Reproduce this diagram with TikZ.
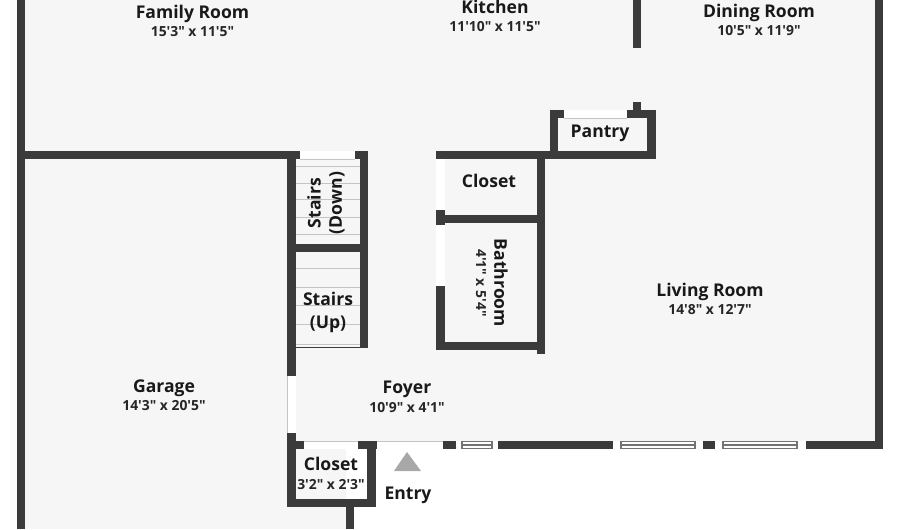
\documentclass[tikz,border=0pt]{standalone}
\usepackage{fontspec}
\newfontfamily\planfont{Open Sans}
\usepackage{xcolor}
\definecolor{wallgray}{HTML}{3B3B3B}
\definecolor{floorgray}{HTML}{F6F6F6}
\definecolor{stairline}{HTML}{C4C4C4}
\definecolor{entrygray}{HTML}{A8A8A8}
\tikzstyle{wall} = [fill=wallgray]
\tikzstyle{floor} = [fill=floorgray]
\tikzstyle{door} = [fill=white]
\tikzstyle{tread} = [draw=stairline, line width=0.5pt]
\tikzstyle{frame} = [draw=stairline, line width=0.4pt]
\tikzstyle{pane} = [draw=black!55, line width=0.6pt]
\tikzstyle{room} = [font=\planfont\bfseries\fontsize{10}{12}\selectfont, text=black!90, inner sep=0pt]
\tikzstyle{size} = [font=\planfont\fontsize{7.9}{10}\selectfont\bfseries, text=black!85, inner sep=0pt]
\begin{document}
\begin{tikzpicture}[x=0.02cm, y=-0.02cm]
	\useasboundingbox (0,0) rectangle (900,529);

	% floor
	\fill[white] (0,0) rectangle (900,529);
	\fill[floor] (25,0) rectangle (875,441);
	\fill[floor] (25,441) rectangle (346,529);

	% stair treads
	\draw[tread] (296,166) -- (360,166);
	\draw[tread] (296,183) -- (360,183);
	\draw[tread] (296,199) -- (360,199);
	\draw[tread] (296,217) -- (360,217);
	\draw[tread] (296,234) -- (360,234);
	\draw[tread] (296,268) -- (360,268);
	\draw[tread] (296,287) -- (360,287);
	\draw[tread] (296,305) -- (360,305);
	\draw[tread] (296,324) -- (360,324);
	\draw[tread] (296,344) -- (360,344);

	% outer walls
	\fill[wall] (17,0) rectangle (25,529);
	\fill[wall] (875,0) rectangle (883,449);
	\fill[wall] (17,151) rectangle (296,159);
	\fill[wall] (443,441) rectangle (883,449);
	\fill[wall] (633,0) rectangle (641,48);

	% stairs
	\fill[wall] (287,151) rectangle (296,441);
	\fill[wall] (360,151) rectangle (368,348);
	\fill[wall] (287,151) rectangle (368,159);
	\fill[wall] (287,244) rectangle (368,252);
	\fill[wall] (296,347) rectangle (360,348);

	% closet and bathroom
	\fill[wall] (436,151) rectangle (656,159);
	\fill[wall] (436,151) rectangle (445,350);
	\fill[wall] (537,151) rectangle (545,354);
	\fill[wall] (436,215) rectangle (545,223);
	\fill[wall] (436,342) rectangle (545,350);

	% pantry
	\fill[wall] (550,110) rectangle (558,159);
	\fill[wall] (550,110) rectangle (656,118);
	\fill[wall] (647,110) rectangle (656,159);
	\fill[wall] (633,102) rectangle (641,110);

	% entry closet
	\fill[wall] (287,441) rectangle (377,449);
	\fill[wall] (287,441) rectangle (296,507);
	\fill[wall] (367,441) rectangle (376,507);
	\fill[wall] (287,499) rectangle (376,507);
	\fill[wall] (346,507) rectangle (354,529);

	% doors
	\fill[door] (300,151) rectangle (355,159);
	\fill[door] (564,110) rectangle (627,118);
	\fill[door] (436,159) rectangle (445,210);
	\fill[door] (436,225) rectangle (445,286);
	\fill[door] (287,376) rectangle (296,433);
	\fill[door] (304,441) rectangle (358,449);
	\fill[door] (377,441) rectangle (443,449);
	\draw[frame] (300,159) -- (355,159);
	\draw[frame] (564,118) -- (627,118);
	\draw[frame] (304,441) -- (358,441);
	\draw[frame] (377,441) -- (443,441);
	\draw[frame] (287,376) -- (287,433);

	% windows
	\fill[door] (456,441) rectangle (498,449);
	\fill[door] (613,441) rectangle (703,449);
	\fill[door] (715,441) rectangle (806,449);
	\draw[pane] (462,441.5) rectangle (492,448.5);
	\draw[pane] (462,445) -- (492,445);
	\draw[pane] (621,441.5) rectangle (695,448.5);
	\draw[pane] (621,445) -- (695,445);
	\draw[pane] (723,441.5) rectangle (797,448.5);
	\draw[pane] (723,445) -- (797,445);

	% entry marker
	\fill[entrygray] (407,452) -- (421,471) -- (394,471) -- cycle;

	% rooms
	\node[room] (family) at (192.5,14) {Family Room};
	\node[size] (familysize) at (192.5,32) {15'3" x 11'5"};
	\node[room] (kitchen) at (495,7) {Kitchen};
	\node[size] (kitchensize) at (495,27) {11'10" x 11'5"};
	\node[room] (dining) at (759,13) {Dining Room};
	\node[size] (diningsize) at (759,31) {10'5" x 11'9"};
	\node[room] (pantry) at (600,133) {Pantry};
	\node[room] (closeta) at (489,181) {Closet};
	\node[room, rotate=-90] (bathroom) at (501,283) {Bathroom};
	\node[size, rotate=-90] (bathroomsize) at (481,283) {4'1" x 5'4"};
	\node[room, rotate=90] (stairsdown) at (314,203) {Stairs};
	\node[room, rotate=90] (down) at (337,203) {(Down)};
	\node[room] (stairsup) at (328,299) {Stairs};
	\node[room] (up) at (328,324) {(Up)};
	\node[room] (living) at (710,292) {Living Room};
	\node[size] (livingsize) at (710,310) {14'8" x 12'7"};
	\node[room] (garage) at (164,388) {Garage};
	\node[size] (garagesize) at (164,406) {14'3" x 20'5"};
	\node[room] (foyer) at (407,389) {Foyer};
	\node[size] (foyersize) at (407,408) {10'9" x 4'1"};
	\node[room] (closetb) at (331,464) {Closet};
	\node[size] (closetbsize) at (331,485) {3'2" x 2'3"};
	\node[room] (entry) at (408,495) {Entry};

\end{tikzpicture}
\end{document}
